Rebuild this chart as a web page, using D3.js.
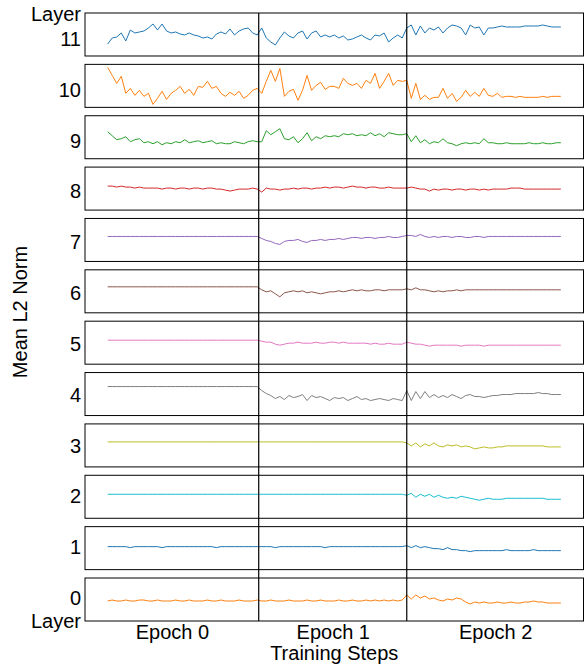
<!DOCTYPE html>
<html>
<head>
<meta charset="utf-8">
<script src="https://cdn.jsdelivr.net/npm/d3@7"></script>
<style>
  body { margin: 0; background: #fff; }
  text { font-family: "Liberation Sans", Arial, sans-serif; fill: #000; }
</style>
</head>
<body>
<svg id="canvas" width="584" height="672"></svg>
<script>
// Layers from top panel to bottom panel
var layers = [11, 10, 9, 8, 7, 6, 5, 4, 3, 2, 1, 0];
var layerColors = ["#1f77b4", "#ff7f0e", "#2ca02c", "#d62728", "#9467bd", "#8c564b",
                   "#e377c2", "#7f7f7f", "#bcbd22", "#17becf", "#1f77b4", "#ff7f0e"];
var epochLabels = ["Epoch 0", "Epoch 1", "Epoch 2"];
var epochStarts = [100, 198];   // training step where epoch 1 and epoch 2 begin
var stepSize = 3;               // steps between logged points

// Mean L2 norm per layer (relative units, one value every 3 steps)
var layer11 = [
  1.2, 1.8, 1.9, 2.3, 1.5, 2.6, 2.3, 2.4, 2.5, 2.8,
  3.2, 2.6, 3.2, 2.5, 2.3, 2.4, 2.2, 2.1, 2.3, 2.1,
  2.0, 1.8, 1.9, 1.7, 2.2, 2.4, 2.2, 2.7, 2.1, 2.5,
  2.7, 2.8, 2.3, 2.1, 2.8, 1.8, 1.4, 1.1, 1.8, 2.4,
  2.0, 1.8, 2.3, 2.5, 1.7, 2.3, 2.5, 1.9, 2.1, 1.9,
  2.1, 1.8, 2.0, 1.6, 1.7, 1.9, 2.1, 1.8, 1.6, 2.1,
  2.0, 2.3, 1.4, 1.8, 2.1, 1.8, 2.8, 3.1, 2.1, 3.0,
  2.3, 2.8, 2.6, 2.9, 2.3, 2.8, 3.1, 3.0, 2.8, 2.1,
  3.1, 2.8, 2.9, 2.1, 2.8, 2.8, 2.9, 3.0, 2.9, 2.9,
  2.9, 2.9, 3.0, 3.0, 3.0, 3.0, 3.1, 3.0, 2.9, 2.9,
  2.9
];
var layer10 = [
  4.0, 3.2, 2.4, 3.1, 1.4, 1.9, 1.2, 1.7, 1.1, 1.4,
  0.3, 0.9, 1.6, 0.8, 1.4, 1.7, 2.1, 1.4, 1.8, 1.2,
  2.1, 2.0, 2.6, 1.9, 2.1, 1.4, 1.1, 1.5, 1.2, 1.6,
  0.9, 1.2, 1.7, 1.9, 1.4, 2.6, 3.7, 2.6, 3.9, 1.1,
  1.6, 1.8, 0.7, 1.7, 3.2, 1.7, 2.2, 2.5, 1.8, 2.1,
  2.1, 1.9, 2.9, 2.4, 2.2, 2.4, 1.9, 2.7, 2.4, 3.4,
  1.9, 2.6, 3.4, 2.2, 2.7, 2.6, 2.7, 0.9, 2.4, 0.8,
  1.2, 0.8, 1.0, 1.0, 1.9, 0.9, 1.4, 0.6, 1.0, 1.7,
  1.1, 1.5, 1.1, 1.9, 1.2, 1.1, 1.4, 1.0, 1.1, 1.1,
  1.0, 1.1, 1.0, 1.0, 1.0, 1.0, 1.1, 1.0, 1.1, 1.1,
  1.1
];
var layer9 = [
  2.7, 2.3, 1.9, 2.0, 2.2, 1.7, 1.9, 2.0, 1.6, 1.7,
  1.5, 1.7, 1.4, 1.6, 1.5, 1.7, 1.6, 1.9, 1.6, 1.7,
  1.8, 1.6, 1.7, 1.8, 1.5, 1.6, 1.5, 1.5, 1.7, 1.6,
  1.5, 1.7, 1.8, 1.7, 1.7, 2.8, 2.4, 2.7, 3.0, 2.0,
  1.9, 2.2, 1.6, 2.0, 2.6, 1.8, 2.2, 2.0, 2.3, 2.2,
  2.3, 2.2, 2.5, 2.4, 2.5, 2.3, 2.4, 2.3, 2.6, 2.3,
  2.5, 2.2, 2.6, 2.5, 2.4, 2.4, 2.5, 1.7, 2.3, 1.6,
  1.9, 1.5, 1.7, 1.6, 2.0, 1.6, 1.5, 1.3, 1.5, 1.6,
  1.5, 1.6, 1.5, 2.0, 1.6, 1.6, 1.5, 1.5, 1.6, 1.5,
  1.5, 1.5, 1.5, 1.6, 1.5, 1.5, 1.6, 1.5, 1.5, 1.6,
  1.6
];
var layer8 = [
  2.4, 2.4, 2.3, 2.4, 2.3, 2.3, 2.2, 2.3, 2.2, 2.2,
  2.2, 2.2, 2.1, 2.2, 2.2, 2.1, 2.2, 2.2, 2.1, 2.2,
  2.2, 2.1, 2.2, 2.2, 2.1, 2.1, 2.0, 1.9, 2.0, 2.1,
  2.1, 2.1, 2.2, 2.1, 1.8, 2.2, 2.1, 2.1, 2.0, 2.1,
  2.1, 2.2, 2.1, 2.2, 2.2, 2.1, 2.2, 2.2, 2.3, 2.2,
  2.3, 2.3, 2.2, 2.3, 2.4, 2.3, 2.3, 2.2, 2.3, 2.3,
  2.2, 2.2, 2.3, 2.2, 2.2, 2.2, 2.2, 2.3, 2.2, 2.1,
  2.1, 1.9, 2.1, 2.0, 2.1, 2.1, 2.0, 2.1, 2.1, 2.0,
  2.1, 2.1, 2.0, 2.1, 2.0, 2.1, 2.1, 2.1, 2.1, 2.2,
  2.2, 2.2, 2.1, 2.1, 2.1, 2.1, 2.1, 2.1, 2.1, 2.1,
  2.1
];
var layer7 = [
  2.5, 2.5, 2.5, 2.5, 2.5, 2.5, 2.5, 2.5, 2.5, 2.5,
  2.5, 2.5, 2.5, 2.5, 2.5, 2.5, 2.5, 2.5, 2.5, 2.5,
  2.5, 2.5, 2.5, 2.5, 2.5, 2.5, 2.5, 2.5, 2.5, 2.5,
  2.5, 2.5, 2.5, 2.5, 2.3, 2.1, 2.0, 1.8, 1.7, 2.0,
  2.1, 2.1, 2.2, 2.0, 1.9, 2.1, 2.1, 2.2, 2.1, 2.2,
  2.2, 2.3, 2.2, 2.3, 2.4, 2.4, 2.3, 2.4, 2.4, 2.3,
  2.4, 2.4, 2.5, 2.4, 2.4, 2.5, 2.6, 2.6, 2.5, 2.7,
  2.5, 2.4, 2.5, 2.4, 2.5, 2.5, 2.4, 2.5, 2.5, 2.4,
  2.4, 2.5, 2.5, 2.4, 2.5, 2.5, 2.5, 2.5, 2.5, 2.5,
  2.5, 2.5, 2.5, 2.5, 2.5, 2.5, 2.5, 2.5, 2.5, 2.5,
  2.5
];
var layer6 = [
  2.6, 2.6, 2.6, 2.6, 2.6, 2.6, 2.6, 2.6, 2.6, 2.6,
  2.6, 2.6, 2.6, 2.6, 2.6, 2.6, 2.6, 2.6, 2.6, 2.6,
  2.6, 2.6, 2.6, 2.6, 2.6, 2.6, 2.6, 2.6, 2.6, 2.6,
  2.6, 2.6, 2.6, 2.6, 2.3, 2.1, 2.2, 1.9, 1.6, 2.0,
  2.1, 2.2, 2.1, 2.2, 2.0, 2.1, 2.0, 1.9, 2.0, 2.1,
  2.1, 2.2, 2.1, 2.2, 2.3, 2.2, 2.3, 2.2, 2.2, 2.3,
  2.3, 2.2, 2.3, 2.3, 2.3, 2.3, 2.4, 2.3, 2.5, 2.3,
  2.3, 2.2, 2.1, 2.2, 2.1, 2.2, 2.2, 2.3, 2.2, 2.3,
  2.3, 2.3, 2.3, 2.3, 2.3, 2.3, 2.3, 2.3, 2.3, 2.3,
  2.3, 2.3, 2.3, 2.3, 2.3, 2.3, 2.3, 2.3, 2.3, 2.3,
  2.3
];
var layer5 = [
  2.4, 2.4, 2.4, 2.4, 2.4, 2.4, 2.4, 2.4, 2.4, 2.4,
  2.4, 2.4, 2.4, 2.4, 2.4, 2.4, 2.4, 2.4, 2.4, 2.4,
  2.4, 2.4, 2.4, 2.4, 2.4, 2.4, 2.4, 2.4, 2.4, 2.4,
  2.4, 2.4, 2.4, 2.4, 2.3, 2.2, 2.2, 2.0, 1.9, 2.0,
  2.1, 2.1, 2.2, 2.1, 2.1, 2.1, 2.2, 2.1, 2.1, 2.2,
  2.2, 2.1, 2.2, 2.1, 2.1, 2.1, 2.1, 2.1, 2.0, 2.1,
  2.0, 2.0, 2.1, 2.0, 2.0, 2.0, 2.2, 2.1, 2.0, 2.0,
  1.9, 1.8, 1.9, 1.9, 1.9, 1.9, 1.9, 1.9, 1.8, 1.9,
  1.9, 1.9, 1.9, 1.8, 1.9, 1.9, 1.9, 1.9, 1.9, 1.9,
  1.9, 1.9, 1.9, 1.9, 1.9, 1.9, 1.9, 1.9, 1.9, 1.9,
  1.9
];
var layer4 = [
  2.9, 2.9, 2.9, 2.9, 2.9, 2.9, 2.9, 2.9, 2.9, 2.9,
  2.9, 2.9, 2.9, 2.9, 2.9, 2.9, 2.9, 2.9, 2.9, 2.9,
  2.9, 2.9, 2.9, 2.9, 2.9, 2.9, 2.9, 2.9, 2.9, 2.9,
  2.9, 2.9, 2.9, 2.9, 2.5, 2.2, 2.0, 1.7, 1.9, 1.6,
  2.0, 1.8, 1.9, 2.1, 1.5, 2.0, 1.8, 1.9, 1.7, 1.5,
  1.8, 1.7, 1.8, 1.5, 1.7, 1.9, 1.6, 1.7, 1.5, 1.6,
  1.7, 1.6, 1.5, 1.7, 1.6, 1.5, 2.5, 1.5, 2.4, 1.7,
  2.4, 1.8, 2.1, 1.8, 2.0, 1.8, 2.1, 1.9, 1.7, 2.0,
  2.1, 1.9, 1.9, 1.8, 1.9, 2.0, 2.0, 2.1, 2.1, 2.1,
  2.2, 2.2, 2.2, 2.2, 2.2, 2.3, 2.2, 2.2, 2.1, 2.1,
  2.1
];
var layer3 = [
  2.5, 2.5, 2.5, 2.5, 2.5, 2.5, 2.5, 2.5, 2.5, 2.5,
  2.5, 2.5, 2.5, 2.5, 2.5, 2.5, 2.5, 2.5, 2.5, 2.5,
  2.5, 2.5, 2.5, 2.5, 2.5, 2.5, 2.5, 2.5, 2.5, 2.5,
  2.5, 2.5, 2.5, 2.5, 2.5, 2.5, 2.5, 2.5, 2.5, 2.5,
  2.5, 2.5, 2.5, 2.5, 2.5, 2.5, 2.5, 2.5, 2.5, 2.5,
  2.5, 2.5, 2.5, 2.5, 2.5, 2.5, 2.5, 2.5, 2.5, 2.5,
  2.5, 2.5, 2.5, 2.5, 2.5, 2.5, 2.4, 2.1, 2.4, 2.0,
  2.3, 2.1, 2.4, 2.1, 2.0, 2.2, 2.1, 2.2, 2.0, 2.1,
  2.0, 1.8, 1.9, 2.0, 1.9, 1.9, 2.0, 2.0, 2.1, 2.1,
  2.1, 2.1, 2.1, 2.1, 2.1, 2.1, 2.1, 2.0, 2.0, 2.0,
  2.0
];
var layer2 = [
  2.4, 2.4, 2.4, 2.4, 2.4, 2.4, 2.4, 2.4, 2.4, 2.4,
  2.4, 2.4, 2.4, 2.4, 2.4, 2.4, 2.4, 2.4, 2.4, 2.4,
  2.4, 2.4, 2.4, 2.4, 2.4, 2.4, 2.4, 2.4, 2.4, 2.4,
  2.4, 2.4, 2.4, 2.4, 2.4, 2.4, 2.4, 2.4, 2.4, 2.4,
  2.4, 2.4, 2.4, 2.4, 2.4, 2.4, 2.4, 2.4, 2.4, 2.4,
  2.4, 2.4, 2.4, 2.4, 2.4, 2.4, 2.4, 2.4, 2.4, 2.4,
  2.4, 2.4, 2.4, 2.4, 2.4, 2.4, 2.3, 2.5, 2.1, 2.4,
  2.2, 2.4, 2.1, 2.3, 2.1, 2.0, 2.1, 2.0, 2.2, 2.1,
  2.0, 1.9, 1.8, 1.9, 2.0, 1.9, 1.9, 1.9, 2.0, 2.0,
  2.0, 2.0, 2.0, 2.0, 2.0, 2.0, 2.0, 1.9, 1.9, 1.9,
  1.9
];
var layer1 = [
  2.3, 2.3, 2.3, 2.3, 2.3, 2.2, 2.3, 2.3, 2.3, 2.3,
  2.3, 2.3, 2.2, 2.3, 2.3, 2.3, 2.3, 2.3, 2.3, 2.3,
  2.3, 2.3, 2.3, 2.3, 2.2, 2.3, 2.3, 2.3, 2.3, 2.3,
  2.3, 2.3, 2.3, 2.3, 2.3, 2.3, 2.3, 2.2, 2.3, 2.3,
  2.3, 2.3, 2.3, 2.3, 2.3, 2.3, 2.3, 2.3, 2.2, 2.3,
  2.3, 2.3, 2.3, 2.3, 2.3, 2.3, 2.3, 2.3, 2.3, 2.3,
  2.3, 2.3, 2.3, 2.3, 2.3, 2.3, 2.4, 2.2, 2.4, 2.2,
  2.3, 2.2, 2.1, 2.1, 2.0, 2.2, 2.0, 2.0, 1.9, 1.9,
  1.8, 1.9, 1.9, 1.9, 1.9, 1.9, 1.9, 1.9, 2.0, 1.9,
  1.9, 1.9, 1.9, 1.9, 2.0, 1.9, 1.9, 1.9, 1.9, 1.9,
  1.9
];
var layer0 = [
  2.0, 2.1, 2.0, 2.0, 2.1, 2.0, 2.0, 2.1, 2.1, 2.0,
  2.0, 2.1, 2.0, 2.0, 2.0, 2.1, 2.0, 2.0, 2.1, 2.0,
  2.0, 2.0, 2.1, 2.0, 2.0, 2.1, 2.0, 2.0, 2.0, 2.1,
  2.0, 2.0, 2.0, 2.1, 2.0, 2.0, 2.1, 2.0, 2.0, 2.0,
  2.1, 2.0, 2.0, 2.0, 2.1, 2.0, 2.0, 2.1, 2.0, 2.0,
  2.0, 2.1, 2.0, 2.0, 2.1, 2.0, 2.0, 2.1, 2.0, 2.1,
  2.0, 2.1, 2.0, 2.1, 2.0, 2.1, 2.6, 2.2, 2.6, 2.3,
  2.5, 2.2, 2.3, 2.1, 2.0, 2.2, 2.1, 2.3, 2.2, 1.9,
  1.7, 1.9, 1.8, 1.9, 1.8, 1.8, 1.9, 1.8, 1.8, 1.9,
  1.8, 1.8, 1.9, 1.9, 2.0, 1.9, 1.9, 1.8, 1.8, 1.8,
  1.8
];
var series = [layer11, layer10, layer9, layer8, layer7, layer6,
              layer5, layer4, layer3, layer2, layer1, layer0];

var svg = d3.select("#canvas");

var margin = {top: 13, right: 0.5, bottom: 51, left: 85};
var width = +svg.attr("width") - margin.left - margin.right;
var plotBottom = +svg.attr("height") - margin.bottom;

// Scales
var x = d3.scaleLinear()
    .domain([-15, 315])
    .range([margin.left, margin.left + width]);

var panel = d3.scaleBand()
    .domain(layers)
    .range([margin.top, plotBottom])
    .paddingInner(0.163);

var labelY = d3.scalePoint()
    .domain(layers)
    .range([46, 605]);

var line = d3.line()
    .x(function(d, i){ return x(i * stepSize); });

// Panels
layers.forEach(function(layer, i){
    var top = panel(layer);
    var y = d3.scaleLinear()
        .domain([0, 4.3])
        .range([top + panel.bandwidth(), top]);

    svg.append("rect")
        .attr("x", margin.left)
        .attr("y", top)
        .attr("width", width)
        .attr("height", panel.bandwidth())
        .attr("fill", "none")
        .attr("stroke", "#000")
        .attr("stroke-width", 1);

    svg.append("path")
        .datum(series[i])
        .attr("d", line.y(function(d){ return y(d); }))
        .attr("fill", "none")
        .attr("stroke", layerColors[i])
        .attr("stroke-width", 1)
        .attr("stroke-linejoin", "round");

    svg.append("text")
        .attr("x", 81)
        .attr("y", labelY(layer))
        .attr("text-anchor", "end")
        .style("font-size", "20px")
        .text(layer);
});

// "Layer" captions above the top label and below the bottom label
svg.append("text")
    .attr("x", 81).attr("y", 21)
    .attr("text-anchor", "end")
    .style("font-size", "20px")
    .text("Layer");
svg.append("text")
    .attr("x", 81).attr("y", 628)
    .attr("text-anchor", "end")
    .style("font-size", "20px")
    .text("Layer");

// Epoch boundaries
svg.selectAll(".epoch-line")
    .data(epochStarts)
    .enter().append("line")
    .attr("class", "epoch-line")
    .attr("x1", function(d){ return x(d); })
    .attr("x2", function(d){ return x(d); })
    .attr("y1", margin.top)
    .attr("y2", plotBottom)
    .attr("stroke", "#000")
    .attr("stroke-width", 1.2);

// X axis: epoch names centred in each region
var edges = [x.domain()[0]].concat(epochStarts, [x.domain()[1]]);
var tickPos = epochLabels.map(function(d, i){ return (edges[i] + edges[i + 1]) / 2; });
var xAxisCall = d3.axisBottom(x)
    .tickValues(tickPos)
    .tickFormat(function(d, i){ return epochLabels[i]; })
    .tickSize(0)
    .tickPadding(4);
var xAxis = svg.append("g")
    .attr("transform", "translate(0," + plotBottom + ")")
    .call(xAxisCall);
xAxis.select(".domain").remove();
xAxis.selectAll("text")
    .style("font-size", "20px")
    .style("font-family", "'Liberation Sans', Arial, sans-serif")
    .attr("fill", "#000");

// Axis titles
svg.append("text")
    .attr("x", margin.left + width / 2)
    .attr("y", 660)
    .attr("text-anchor", "middle")
    .style("font-size", "20px")
    .text("Training Steps");
svg.append("text")
    .attr("transform", "translate(27,312) rotate(-90)")
    .attr("text-anchor", "middle")
    .style("font-size", "20px")
    .text("Mean L2 Norm");
</script>
</body>
</html>
